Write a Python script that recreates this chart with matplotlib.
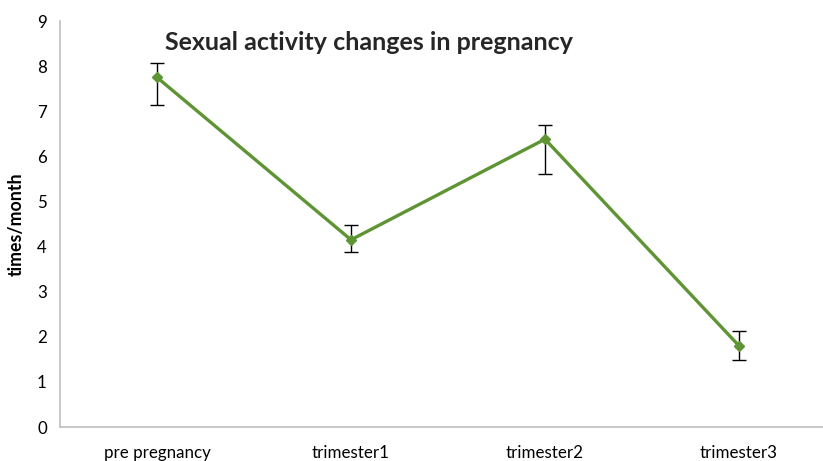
import matplotlib
matplotlib.use('Agg')
import matplotlib.pyplot as plt

# chart values
categories = ['pre pregnancy', 'trimester1', 'trimester2', 'trimester3']
means = [7.75, 4.15, 6.38, 1.80]
err_upper = [8.08, 4.48, 6.70, 2.13]
err_lower = [7.13, 3.87, 5.60, 1.48]

plt.rcParams['font.family'] = ['Lato', 'DejaVu Sans']

fig = plt.figure(figsize=(8.23, 4.61), dpi=100)
# axes spans from x=60px to the right edge, y from 21px to 427px
ax = fig.add_axes([60/823, (461-427)/461, (823-60)/823, (427-21)/461])

x = list(range(len(categories)))
yerr = [[m - lo for m, lo in zip(means, err_lower)],
        [hi - m for m, hi in zip(means, err_upper)]]
ax.errorbar(x, means, yerr=yerr, fmt='none', ecolor='black', elinewidth=1,
            capsize=5, capthick=1, zorder=2)
ax.plot(x, means, color='#5E9434', linewidth=2.4, marker='D', markersize=5.5,
        markerfacecolor='#5E9434', markeredgecolor='#5E9434', zorder=3)

ax.set_ylim(0, 9)
ax.set_yticks(range(0, 10))
ax.set_xlim(-0.5, -0.5 + 763/194)
ax.set_xticks(x)
ax.set_xticklabels(categories)
ax.tick_params(axis='both', length=0, labelsize=12.2, colors='black')
ax.tick_params(axis='x', pad=13)
ax.tick_params(axis='y', pad=13)
for lbl in ax.get_yticklabels():
    lbl.set_horizontalalignment('center')

for side in ['top', 'right']:
    ax.spines[side].set_visible(False)
for side in ['left', 'bottom']:
    ax.spines[side].set_color('#BFBFBF')
    ax.spines[side].set_linewidth(1.2)

ax.set_ylabel('times/month', fontsize=12.8, fontweight='bold')
ax.yaxis.set_label_coords(-35/763, 0.5)

fig.text(165/823, 1 - 42/461, 'Sexual activity changes in pregnancy',
         fontsize=18, fontweight='bold', color='#262626', va='center', ha='left')

fig.savefig('out.png', dpi=100)
